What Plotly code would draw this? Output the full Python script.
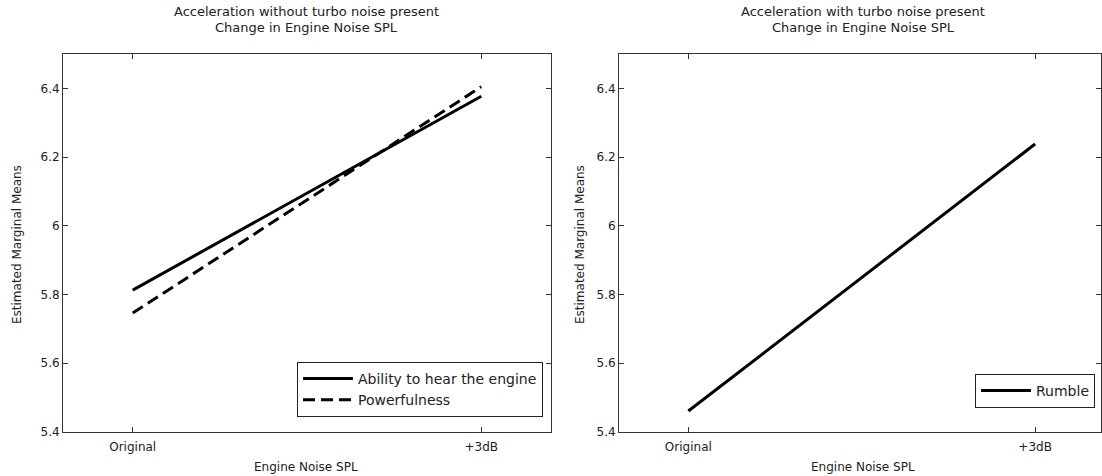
import plotly.graph_objects as go

categories = ["Original", "+3dB"]
cat_pos = [1, 2]
ability = [5.813, 6.377]
powerfulness = [5.746, 6.405]
rumble = [5.461, 6.238]
yticks = [5.4, 5.6, 5.8, 6.0, 6.2, 6.4]
ytick_text = ["5.4", "5.6", "5.8", "6", "6.2", "6.4"]

W, H = 1102, 476
ML, MR, MT, MB = 63, 1, 54, 44
PW = W - ML - MR
PH = H - MT - MB

def px(x):
    return (x - ML) / PW

def py(y):
    return (H - MB - y) / PH

FONT = "DejaVu Sans, sans-serif"
TXT = "#222222"

fig = go.Figure()
fig.add_trace(go.Scatter(x=cat_pos, y=ability, mode="lines", name="Ability to hear the engine",
                         line=dict(color="black", width=3), xaxis="x", yaxis="y", legend="legend"))
fig.add_trace(go.Scatter(x=cat_pos, y=powerfulness, mode="lines", name="Powerfulness",
                         line=dict(color="black", width=3, dash="12px,6px"), xaxis="x", yaxis="y", legend="legend"))
fig.add_trace(go.Scatter(x=cat_pos, y=rumble, mode="lines", name="Rumble",
                         line=dict(color="black", width=3), xaxis="x2", yaxis="y2", legend="legend2"))

axis_common = dict(showgrid=False, zeroline=False, showline=True, linecolor="#333333", linewidth=1,
                   mirror="ticks", ticks="inside", ticklen=5, tickcolor="#333333",
                   tickfont=dict(family=FONT, size=12, color=TXT))

fig.update_layout(
    width=W, height=H,
    margin=dict(l=ML, r=MR, t=MT, b=MB),
    paper_bgcolor="white", plot_bgcolor="white",
    font=dict(family=FONT, size=12, color=TXT),
    xaxis=dict(domain=[0, px(551)], range=[0.8, 2.2], tickvals=cat_pos, ticktext=categories, anchor="y",
               ticklabelstandoff=4, **axis_common),
    yaxis=dict(domain=[0, 1], range=[5.4, 6.5], tickvals=yticks, ticktext=ytick_text, anchor="x", **axis_common),
    xaxis2=dict(domain=[px(619), 1], range=[0.8, 2.19], tickvals=cat_pos, ticktext=categories, anchor="y2",
                ticklabelstandoff=4, **axis_common),
    yaxis2=dict(domain=[0, 1], range=[5.4, 6.5], tickvals=yticks, ticktext=ytick_text, anchor="x2", **axis_common),
    legend=dict(x=px(543), y=py(417), xanchor="right", yanchor="bottom", bgcolor="white",
                bordercolor="#222222", borderwidth=1, font=dict(family=FONT, size=14, color=TXT),
                tracegroupgap=0, itemwidth=50),
    legend2=dict(x=px(1095), y=py(408), xanchor="right", yanchor="bottom", bgcolor="white",
                 bordercolor="#222222", borderwidth=1, font=dict(family=FONT, size=14, color=TXT),
                 itemwidth=50),
    showlegend=True,
)

annots = [
    dict(text="Acceleration without turbo noise present", x=px(306), y=py(12), size=13),
    dict(text="Change in Engine Noise SPL", x=px(306), y=py(28), size=13),
    dict(text="Acceleration with turbo noise present", x=px(863), y=py(12), size=13),
    dict(text="Change in Engine Noise SPL", x=px(863), y=py(28), size=13),
    dict(text="Engine Noise SPL", x=px(306), y=py(467), size=12),
    dict(text="Engine Noise SPL", x=px(863), y=py(467), size=12),
]
for a in annots:
    s = a.pop("size")
    fig.add_annotation(xref="paper", yref="paper", showarrow=False, xanchor="center", yanchor="middle",
                       font=dict(family=FONT, size=s, color=TXT), **a)
for xx in [17, 580]:
    fig.add_annotation(text="Estimated Marginal Means", xref="paper", yref="paper", x=px(xx), y=py(245),
                       textangle=-90, showarrow=False, xanchor="center", yanchor="middle",
                       font=dict(family=FONT, size=12, color=TXT))

fig.write_html("out.html")
